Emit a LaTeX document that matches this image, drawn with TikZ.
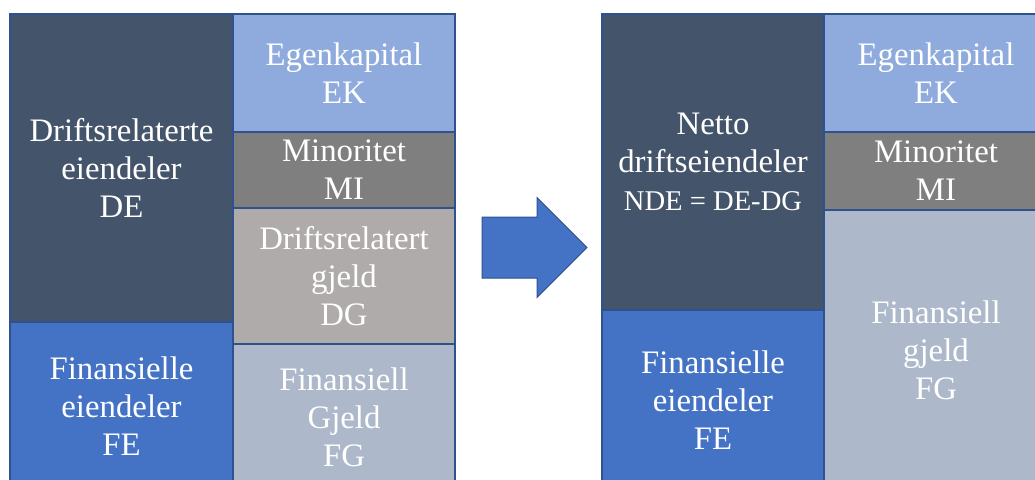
\documentclass[tikz,border=0pt]{standalone}
\usepackage{fontspec}
\setmainfont{Liberation Serif}
\usepackage{tikz}
\usetikzlibrary{shapes,arrows,positioning}
\definecolor{slate}{RGB}{68, 84, 106}
\definecolor{deep}{RGB}{68, 114, 196}
\definecolor{light}{RGB}{143, 170, 220}
\definecolor{grey}{RGB}{127, 127, 127}
\definecolor{stone}{RGB}{175, 171, 171}
\definecolor{steel}{RGB}{173, 185, 202}
\definecolor{edge}{RGB}{47, 82, 143}
\tikzstyle{cell} = [rectangle, draw=edge, line width=1.2pt, text=white, align=center, inner sep=0pt, outer sep=0pt, font=\fontsize{32.8}{38}\selectfont]
\tikzstyle{pil} = [single arrow, draw=edge, fill=deep, line width=1pt, single arrow head extend=19.5pt, inner xsep=0pt, inner ysep=30pt, outer sep=0pt]

\begin{document}
\begin{tikzpicture}[x=1pt, y=1pt]
\useasboundingbox (0,0) rectangle (1035,-479);

% before =============================

% assets
\node[cell, fill=slate, anchor=north west, minimum width=223pt, minimum height=308pt] (de) at (10,-14) {Driftsrelaterte\\eiendeler\\DE};
\node[cell, fill=deep, below=0pt of de, minimum width=223pt, minimum height=168pt] (fe) {Finansielle\\eiendeler\\FE};

% equity and debt
\node[cell, fill=light, anchor=north west, minimum width=222pt, minimum height=118pt] (ek) at (de.north east) {Egenkapital\\EK};
\node[cell, fill=grey, below=0pt of ek, minimum width=222pt, minimum height=76pt] (mi) {Minoritet\\MI};
\node[cell, fill=stone, below=0pt of mi, minimum width=222pt, minimum height=136pt] (dg) {Driftsrelatert\\gjeld\\DG};
\node[cell, fill=steel, below=0pt of dg, minimum width=222pt, minimum height=146pt] (fg) {Finansiell\\Gjeld\\FG};

% arrow
\node[pil, minimum width=99pt, minimum height=105pt, anchor=tail] (arrow) at (482,-247.5) {};

% after ==============================

% assets
\node[cell, fill=slate, anchor=north west, minimum width=222pt, minimum height=296pt] (nde) at (602,-14) {Netto\\driftseiendeler\\{\fontsize{28.6}{38}\selectfont NDE = DE-DG}};
\node[cell, fill=deep, below=0pt of nde, minimum width=222pt, minimum height=180pt] (fe2) {Finansielle\\eiendeler\\FE};

% equity and debt
\node[cell, fill=light, anchor=north west, minimum width=224pt, minimum height=118pt] (ek2) at (nde.north east) {Egenkapital\\EK};
\node[cell, fill=grey, below=0pt of ek2, minimum width=224pt, minimum height=78pt] (mi2) {Minoritet\\MI};
\node[cell, fill=steel, below=0pt of mi2, minimum width=224pt, minimum height=280pt] (fg2) {Finansiell\\gjeld\\FG};

\end{tikzpicture}
\end{document}
